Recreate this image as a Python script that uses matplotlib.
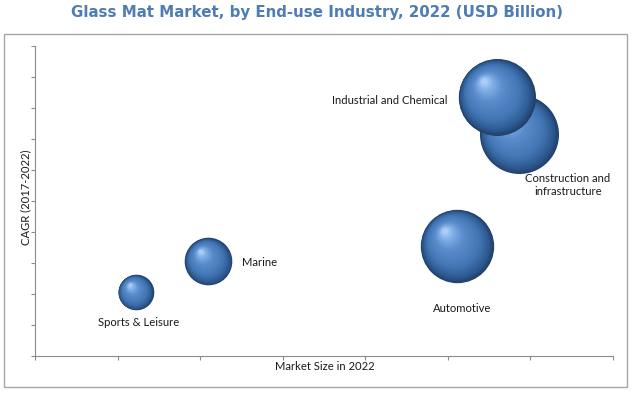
import matplotlib
matplotlib.use("Agg")
import matplotlib.pyplot as plt
import numpy as np
from matplotlib.patches import Rectangle
from matplotlib.colors import LinearSegmentedColormap
import matplotlib.transforms as mtransforms

# ---- data ----
industries = ["Construction and\ninfrastructure", "Industrial and Chemical",
              "Automotive", "Marine", "Sports & Leisure"]
market_size = [5.86, 5.59, 5.11, 2.10, 1.22]      # x position (relative)
cagr = [7.15, 8.35, 3.55, 3.05, 2.05]              # y position (relative)
bubble_radius = [39.5, 38.5, 36.7, 23.8, 17.8]     # relative bubble size

title = "Glass Mat Market, by End-use Industry, 2022 (USD Billion)"
xlabel = "Market Size in 2022"
ylabel = "CAGR (2017-2022)"

W, H, DPI = 635, 396, 100
fig = plt.figure(figsize=(W / DPI, H / DPI), dpi=DPI)

# outer frame
fig.patches.append(Rectangle((4 / W, 1 - 387 / H), (627 - 4) / W, (387 - 34) / H,
                             transform=fig.transFigure, fill=False,
                             edgecolor="#a6a6a6", linewidth=1.0))

fig.text(317 / W, 1 - 12 / H, title, ha="center", va="center",
         fontsize=10.8, fontweight="bold", color="#4f7cb5", family="DejaVu Sans")

ax = fig.add_axes([35 / W, 1 - 356 / H, (613 - 35) / W, (356 - 46) / H])
ax.set_xlim(0, 7)
ax.set_ylim(0, 10)
ax.set_xticks(np.arange(0, 8))
ax.set_yticks(np.arange(0, 11))
ax.set_xticklabels([])
ax.set_yticklabels([])
for s in ["top", "right"]:
    ax.spines[s].set_visible(False)
for s in ["left", "bottom"]:
    ax.spines[s].set_color("#8c8c8c")
    ax.spines[s].set_linewidth(0.8)
ax.tick_params(direction="out", length=3, width=0.8, color="#8c8c8c")
ax.patch.set_alpha(0)

cmap = LinearSegmentedColormap.from_list(
    "sphere", [(0.0, "#22426e"), (0.12, "#2f5c93"), (0.3, "#4275b3"),
               (0.65, "#5a8ccb"), (0.85, "#7dabe4"), (1.0, "#a9cdf6")])

N = 45
for x, y, R in zip(market_size, cagr, bubble_radius):
    for i in range(N):
        t = i / (N - 1)
        r = R * (1 - 0.93 * t)
        off = 0.42 * R * t * 72 / DPI   # points
        tr = mtransforms.offset_copy(ax.transData, fig=fig, x=-off * 0.8, y=off, units="points")
        d_pt = 2 * r * 72 / DPI
        ax.scatter([x], [y], s=d_pt ** 2, color=cmap(t), linewidths=0,
                   transform=tr, zorder=2, clip_on=False)

lab_font = dict(family="Lato", fontsize=8.1, color="#1a1a1a")
def px(xp, yp):
    return xp / W, 1 - yp / H

fig.text(*px(448, 100), industries[1], ha="right", va="center", **lab_font)
fig.text(*px(568, 185), industries[0], ha="center", va="center",
         linespacing=1.3, **lab_font)
fig.text(*px(462, 308), industries[2], ha="center", va="center", **lab_font)
fig.text(*px(242, 263), industries[3], ha="left", va="center", **lab_font)
fig.text(*px(139, 323), industries[4], ha="center", va="center", **lab_font)

fig.text(*px(325, 367), xlabel, ha="center", va="center", **lab_font)
fig.text(*px(26, 197), ylabel, ha="center", va="center", rotation=90, **lab_font)

fig.savefig("out.png", dpi=DPI)
